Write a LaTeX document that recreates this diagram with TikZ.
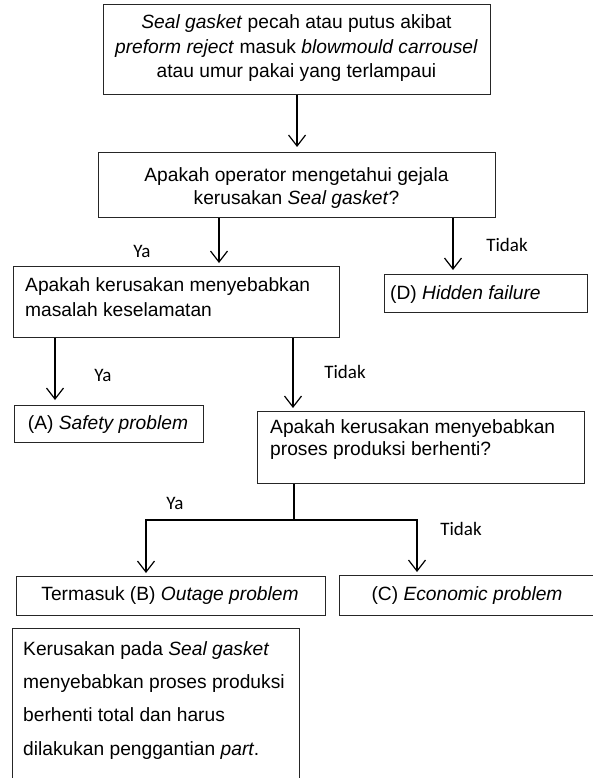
\documentclass[tikz,border=0pt]{standalone}
\usepackage{fontspec}
\setmainfont{Liberation Sans}
\newfontfamily\calibrifont{Carlito}
\usetikzlibrary{arrows.meta}
\begin{document}
\begin{tikzpicture}[x=1pt,y=-1pt,
  box/.style={draw=black!85, line width=1.1pt, rectangle, inner sep=0pt, anchor=north west},
  txt/.style={inner sep=0pt, font=\fontsize{19.2}{24}\selectfont},
  lbl/.style={inner sep=0pt, font=\calibrifont\fontsize{19}{23}\selectfont},
  arr/.style={draw=black, line width=1.2pt, -{Straight Barb[length=11pt,width=17pt]}, shorten >=3pt},
  conn/.style={draw=black, line width=1.2pt}]
\useasboundingbox (0,0) rectangle (593,778);
\clip (0,0) rectangle (593,778);
\fill[white] (0,0) rectangle (593,778);

% boxes
\node[box, minimum width=387pt, minimum height=90pt] (b1) at (103,4) {};
\node[box, minimum width=397pt, minimum height=65pt] (b2) at (98,152) {};
\node[box, minimum width=326pt, minimum height=71pt] (b3) at (13,266) {};
\node[box, minimum width=203pt, minimum height=38pt] (bD) at (384,274) {};
\node[box, minimum width=189pt, minimum height=37pt] (bA) at (14,405) {};
\node[box, minimum width=327pt, minimum height=72pt] (b4) at (257,411) {};
\node[box, minimum width=309pt, minimum height=39pt] (bB) at (16,576) {};
\node[box, minimum width=256pt, minimum height=40pt] (bC) at (339,575) {};
\node[box, minimum width=287pt, minimum height=170pt] (bN) at (12,628) {};

% texts
\node[txt, align=center, anchor=north, font=\fontsize{19.2}{24.5}\selectfont] (t1) at (296.5,14.5)
  {\textit{Seal gasket} pecah atau putus akibat\\ \textit{preform reject} masuk \textit{blowmould carrousel}\\ atau umur pakai yang terlampaui};
\node[txt, align=center, anchor=north, font=\fontsize{19.2}{23}\selectfont] (t2) at (296.5,167)
  {Apakah operator mengetahui gejala\\ kerusakan \textit{Seal gasket}?};
\node[txt, align=left, anchor=north west, font=\fontsize{19.2}{25}\selectfont] (t3) at (25,277.5)
  {Apakah kerusakan menyebabkan\\ masalah keselamatan};
\node[txt, anchor=north west] (tD) at (390,285) {(D) \textit{Hidden failure}};
\node[txt, anchor=north] (tA) at (108,415.5) {(A) \textit{Safety problem}};
\node[txt, align=left, anchor=north west, font=\fontsize{19.2}{22}\selectfont] (t4) at (270,419.5)
  {Apakah kerusakan menyebabkan\\ proses produksi berhenti?};
\node[txt, anchor=north] (tB) at (170,586) {Termasuk (B) \textit{Outage problem}};
\node[txt, anchor=north] (tC) at (467,586) {(C) \textit{Economic problem}};
\node[txt, align=left, anchor=north west, font=\fontsize{19.2}{33.3}\selectfont] (tN) at (23,641)
  {Kerusakan pada \textit{Seal gasket}\\ menyebabkan proses produksi\\ berhenti total dan harus\\ dilakukan penggantian \textit{part}.};

% labels
\node[lbl] (l1) at (142,251) {Ya};
\node[lbl] (l2) at (507,245) {Tidak};
\node[lbl] (l3) at (103,375) {Ya};
\node[lbl] (l4) at (345,372) {Tidak};
\node[lbl] (l5) at (175,503) {Ya};
\node[lbl] (l6) at (461,529) {Tidak};

% connector x positions
\coordinate (x219) at (219,0);
\coordinate (x453) at (453,0);
\coordinate (x55) at (55,0);
\coordinate (x293) at (293,0);
\coordinate (x294) at (294,0);
\coordinate (x146) at (146,0);
\coordinate (x417) at (417,0);
\coordinate (j) at (294,520);

% connectors
\draw[arr, shorten >=5pt] (b1.south) -- (b2.north);
\draw[arr] (x219 |- b2.south) -- (x219 |- b3.north);
\draw[arr, shorten >=4pt] (x453 |- b2.south) -- (x453 |- bD.north);
\draw[arr, shorten >=5pt] (x55 |- b3.south) -- (x55 |- bA.north);
\draw[arr] (x293 |- b3.south) -- (x293 |- b4.north);
\draw[conn] (x294 |- b4.south) -- (j);
\draw[arr] (j) -| (x146 |- bB.north);
\draw[arr] (j) -| (x417 |- bC.north);
\end{tikzpicture}
\end{document}
